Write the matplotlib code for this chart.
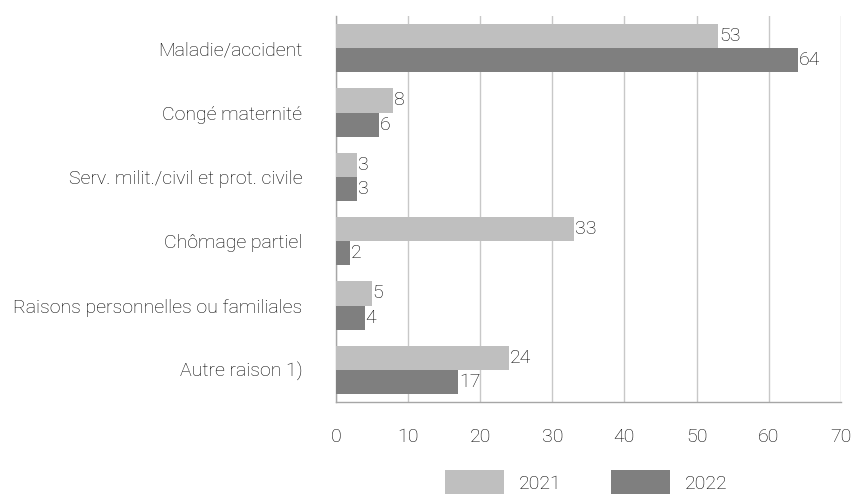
import matplotlib.pyplot as plt
import numpy as np

# Data ------------------------------------------------------------------
categories = ['Maladie/accident', 'Congé maternité', 'Serv. milit./civil et prot. civile',
              'Chômage partiel', 'Raisons personnelles ou familiales', 'Autre raison 1)']
values_2021 = [53, 8, 3, 33, 5, 24]
values_2022 = [64, 6, 3, 2, 4, 17]
years = ['2021', '2022']
x_ticks = [0, 10, 20, 30, 40, 50, 60, 70]

col_2021 = '#bfbfbf'
col_2022 = '#7f7f7f'
text_col = '#000000'

plt.rcParams['font.family'] = ['Roboto', 'DejaVu Sans']
plt.rcParams['font.weight'] = 'light'

fig = plt.figure(figsize=(8.51, 4.94), dpi=100)
ax = fig.add_axes([0.3945, 0.1862, 0.5937, 0.7814])

y = np.arange(len(categories))
h = 0.375
b1 = ax.barh(y - h/2, values_2021, height=h, color=col_2021, label=years[0], zorder=3)
b2 = ax.barh(y + h/2, values_2022, height=h, color=col_2022, label=years[1], zorder=3)

# value labels right of the bars
for bars in (b1, b2):
    ax.bar_label(bars, padding=0.5, fontsize=14, color=text_col, fontweight='light')

ax.set_ylim(len(categories) - 0.5, -0.5)
ax.set_xlim(0, 70)
ax.set_xticks(x_ticks)
ax.set_yticks(y)
ax.set_yticklabels(categories, fontsize=14, color=text_col)
ax.tick_params(axis='y', length=0, pad=24)
ax.tick_params(axis='x', length=0, pad=19, labelsize=14, labelcolor=text_col)

ax.grid(axis='x', color='#c8c8c8', linewidth=1, zorder=0)
for side in ['top', 'right']:
    ax.spines[side].set_visible(False)
for side in ['left', 'bottom']:
    ax.spines[side].set_color('#a6a6a6')
    ax.spines[side].set_linewidth(1)

leg = fig.legend(handles=[b1, b2], labels=years, loc='upper center', ncol=2,
                 bbox_to_anchor=(0.689, 0.048), frameon=False, fontsize=14,
                 handlelength=3.03, handleheight=1.5, columnspacing=2.5,
                 handletextpad=0.77, borderpad=0, borderaxespad=0)
for t in leg.get_texts():
    t.set_color(text_col)

plt.savefig('out.png', dpi=100)
